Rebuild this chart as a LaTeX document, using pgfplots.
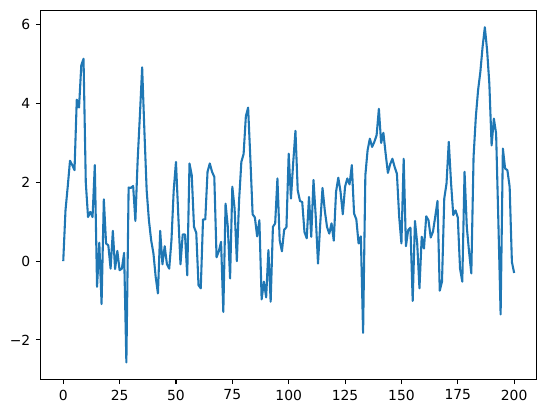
\documentclass[border=0pt]{standalone}
\usepackage{fontspec}
\setmainfont{DejaVu Sans}
\usepackage{pgfplots}
\pgfplotsset{compat=1.18}
\definecolor{tabblue}{HTML}{1F77B4}

\begin{document}
\begin{tikzpicture}
\begin{axis}[
    scale only axis,
    width=357.1pt, height=265.7pt,
    xmin=-10, xmax=210,
    ymin=-3.0, ymax=6.37,
    xtick={0,25,...,200},
    ytick={-2,0,2,4,6},
    yticklabels={−2,0,2,4,6},
    tick align=outside,
    tick pos=left,
    major tick length=3.5pt,
    tick style={line width=0.8pt, black},
    axis line style={line width=0.8pt},
    ticklabel style={font=\fontsize{10}{12}\selectfont},
    /pgf/number format/assume math mode=true,
    xticklabel style={yshift=-0.5pt},
    yticklabel style={xshift=-0.5pt},
]
\addplot[tabblue, line width=1.5pt, line join=round, mark=none] table {
x y
0 0
1 1.29
2 1.9
3 2.55
4 2.44
5 2.31
6 4.1
7 3.9
8 4.97
9 5.14
10 2.0
11 1.12
12 1.25
13 1.12
14 2.44
15 -0.65
16 0.47
17 -1.09
18 1.57
19 0.45
20 0.4
21 -0.19
22 0.77
23 -0.2
24 0.26
25 -0.23
26 -0.19
27 0.21
28 -2.57
29 1.87
30 1.86
31 1.91
32 1.02
33 2.56
34 3.7
35 4.92
36 3.3
37 1.8
38 1.04
39 0.53
40 0.2
41 -0.4
42 -0.82
43 0.77
44 -0.08
45 0.38
46 -0.08
47 -0.19
48 0.53
49 1.8
50 2.52
51 1.2
52 -0.08
53 0.68
54 0.68
55 -0.36
56 2.48
57 2.18
58 0.87
59 0.72
60 -0.61
61 -0.69
62 1.06
63 1.06
64 2.27
65 2.48
66 2.27
67 2.14
68 0.1
69 0.25
70 0.49
71 -1.29
72 1.46
73 0.87
74 -0.44
75 1.89
76 1.34
77 0.0
78 1.55
79 2.52
80 2.72
81 3.68
82 3.9
83 2.6
84 1.19
85 1.11
86 0.63
87 1.04
88 -0.97
89 -0.52
90 -0.92
91 0.28
92 -1.03
93 0.87
94 0.96
95 2.1
96 0.53
97 0.25
98 0.8
99 0.86
100 2.73
101 1.59
102 2.5
103 3.31
104 1.8
105 1.53
106 1.5
107 0.74
108 0.58
109 1.63
110 0.62
111 2.06
112 1.13
113 -0.06
114 0.96
115 1.86
116 1.29
117 0.87
118 0.7
119 0.96
120 0.52
121 1.76
122 2.12
123 1.76
124 1.19
125 1.89
126 2.1
127 1.95
128 2.44
129 1.21
130 1.06
131 0.45
132 0.63
133 -1.82
134 2.18
135 2.82
136 3.11
137 2.9
138 3.03
139 3.2
140 3.87
141 3.0
142 3.26
143 2.73
144 2.24
145 2.46
146 2.6
147 2.39
148 2.22
149 1.13
150 0.45
151 2.6
152 0.38
153 0.79
154 0.85
155 -1.01
156 1.02
157 0.45
158 -0.69
159 0.62
160 0.32
161 1.14
162 1.04
163 0.6
164 0.75
165 1.13
166 1.53
167 -0.75
168 -0.52
169 1.59
170 1.97
171 3.03
172 2.0
173 1.17
174 1.29
175 1.11
176 -0.19
177 -0.52
178 2.27
179 0.87
180 0.24
181 -0.31
182 2.65
183 3.66
184 4.34
185 4.8
186 5.44
187 5.94
188 5.36
189 4.5
190 2.94
191 3.62
192 3.24
193 1.0
194 -1.35
195 2.86
196 2.35
197 2.31
198 1.89
199 -0.02
200 -0.3
};
\end{axis}
\pgfresetboundingbox
\path ([shift={(-29.3pt,-24.3pt)}]current axis.south west)
      rectangle ([shift={(6.7pt,7.4pt)}]current axis.north east);
\end{tikzpicture}
\end{document}
